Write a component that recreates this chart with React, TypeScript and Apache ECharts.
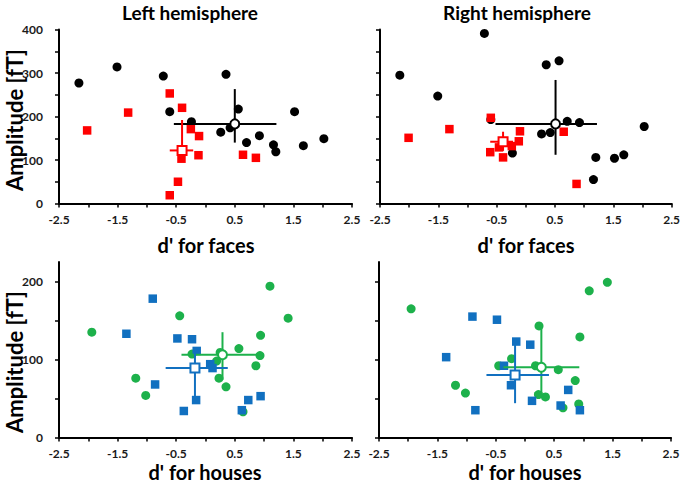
import React, { useEffect, useRef } from 'react';
import * as echarts from 'echarts';

// ---- tick values ----
const xTicks = [-2.5, -2, -1.5, -1, -0.5, 0, 0.5, 1, 1.5, 2, 2.5];
const xTickLabels = [-2.5, -1.5, -0.5, 0.5, 1.5, 2.5];
const facesYTicks = [0, 50, 100, 150, 200, 250, 300, 350, 400];
const facesYLabels = [0, 100, 200, 300, 400];
const housesYTicks = [0, 50, 100, 150, 200];
const housesYLabels = [0, 100, 200];

// ---- Left hemisphere, faces ----
const lhFacesBlackX = [-2.16, -1.51, -0.72, -0.61, -0.24, 0.26, 0.35, 0.42, 0.56, 0.70, 0.92, 1.16, 1.20, 1.52, 1.67, 2.02];
const lhFacesBlackY = [277, 314, 293, 211, 188, 164, 297, 174, 217, 140, 156, 135, 119, 211, 133, 149];
const lhFacesRedX = [-2.02, -1.32, -0.61, -0.40, -0.25, -0.11, -0.12, -0.41, -0.47, -0.61, 0.64, 0.86];
const lhFacesRedY = [168, 209, 253, 220, 171, 155, 111, 103, 50, 19, 112, 105];
const lhFacesBlackMean = [0.50, 183];
const lhFacesBlackErrX = [-0.54, 1.21];
const lhFacesBlackErrY = [140, 263];
const lhFacesRedMean = [-0.40, 122];
const lhFacesRedErrX = [-0.61, -0.21];
const lhFacesRedErrY = [100, 192];

// ---- Right hemisphere, faces ----
const rhFacesBlackX = [-2.16, -1.51, -0.71, -0.60, -0.23, 0.27, 0.35, 0.42, 0.57, 0.71, 0.92, 1.16, 1.20, 1.52, 1.68, 2.03];
const rhFacesBlackY = [295, 247, 391, 193, 116, 160, 319, 163, 328, 189, 186, 55, 106, 104, 112, 177];
const rhFacesRedX = [-2.01, -1.31, -0.60, -0.61, -0.46, -0.39, -0.24, -0.12, -0.10, 0.65, 0.87];
const rhFacesRedY = [151, 171, 197, 118, 129, 106, 132, 143, 166, 165, 45];
const rhFacesBlackMean = [0.51, 183];
const rhFacesBlackErrX = [-0.52, 1.22];
const rhFacesBlackErrY = [112, 284];
const rhFacesRedMean = [-0.39, 142];
const rhFacesRedErrX = [-0.61, -0.22];
const rhFacesRedErrY = [121, 165];

// ---- Left hemisphere, houses ----
const lhHousesGreenX = [-1.94, -1.19, -1.02, -0.44, -0.23, 0.19, 0.23, 0.25, 0.35, 0.57, 0.64, 0.94, 0.93, 0.86, 1.10, 1.41];
const lhHousesGreenY = [135, 76, 54, 156, 107, 98, 76, 109, 65, 114, 33, 131, 105, 92, 194, 153];
const lhHousesBlueX = [-1.35, -0.90, -0.86, -0.48, -0.37, -0.23, -0.15, -0.16, 0.08, 0.12, 0.62, 0.73, 0.94];
const lhHousesBlueY = [133, 178, 68, 127, 34, 126, 111, 48, 94, 89, 35, 48, 53];
const lhHousesGreenMean = [0.29, 106];
const lhHousesGreenErrX = [-0.41, 0.93];
const lhHousesGreenErrY = [74, 135];
const lhHousesBlueMean = [-0.18, 89];
const lhHousesBlueErrX = [-0.68, 0.38];
const lhHousesBlueErrY = [48, 108];

// ---- Right hemisphere, houses ----
const rhHousesGreenX = [-1.95, -1.19, -1.02, -0.45, -0.23, 0.18, 0.24, 0.23, 0.35, 0.57, 0.65, 0.94, 0.86, 0.92, 1.10, 1.41];
const rhHousesGreenY = [165, 67, 57, 92, 101, 92, 143, 55, 52, 87, 38, 129, 73, 43, 188, 199];
const rhHousesBlueX = [-1.35, -0.90, -0.85, -0.48, -0.36, -0.15, -0.24, 0.09, 0.12, 0.61, 0.74, 0.94];
const rhHousesBlueY = [103, 155, 35, 151, 92, 123, 67, 119, 47, 41, 61, 35];
const rhHousesGreenMean = [0.28, 90];
const rhHousesGreenErrX = [-0.37, 0.93];
const rhHousesGreenErrY = [55, 144];
const rhHousesBlueMean = [-0.17, 80];
const rhHousesBlueErrX = [-0.66, 0.41];
const rhHousesBlueErrY = [44, 127];

const BLACK = '#000000';
const RED = '#ff0000';
const GREEN = '#1db14b';
const BLUE = '#1170c0';
const FONT = 'Lato, "Open Sans", sans-serif';

const zip = (xs: number[], ys: number[]) => xs.map((x, i) => [x, ys[i]]);

function errRender(color: string) {
  return (params: any, api: any) => {
    const mx = api.value(0);
    const my = api.value(1);
    const a = api.coord([api.value(2), my]);
    const b = api.coord([api.value(3), my]);
    const c = api.coord([mx, api.value(4)]);
    const d = api.coord([mx, api.value(5)]);
    return {
      type: 'group',
      children: [
        { type: 'line', shape: { x1: a[0], y1: a[1], x2: b[0], y2: b[1] }, style: { stroke: color, lineWidth: 2 } },
        { type: 'line', shape: { x1: c[0], y1: c[1], x2: d[0], y2: d[1] }, style: { stroke: color, lineWidth: 2 } },
      ],
    };
  };
}

function panelSeries(
  idx: number,
  circX: number[], circY: number[], circColor: string,
  sqX: number[], sqY: number[], sqColor: string,
  circMean: number[], circErrX: number[], circErrY: number[],
  sqMean: number[], sqErrX: number[], sqErrY: number[]
) {
  const ax = { xAxisIndex: idx, yAxisIndex: idx, emphasis: { disabled: true }, silent: true };
  return [
    { type: 'scatter', ...ax, symbol: 'circle', symbolSize: 9, itemStyle: { color: circColor, opacity: 1 }, data: zip(circX, circY), z: 2 },
    { type: 'scatter', ...ax, symbol: 'rect', symbolSize: 8.5, itemStyle: { color: sqColor, opacity: 1 }, data: zip(sqX, sqY), z: 3 },
    { type: 'custom', ...ax, renderItem: errRender(circColor), data: [[circMean[0], circMean[1], circErrX[0], circErrX[1], circErrY[0], circErrY[1]]], z: 4 },
    { type: 'custom', ...ax, renderItem: errRender(sqColor), data: [[sqMean[0], sqMean[1], sqErrX[0], sqErrX[1], sqErrY[0], sqErrY[1]]], z: 4 },
    { type: 'scatter', ...ax, symbol: 'circle', symbolSize: 9, itemStyle: { color: '#ffffff', borderColor: circColor, borderWidth: 2, opacity: 1 }, data: [circMean], z: 5 },
    { type: 'scatter', ...ax, symbol: 'rect', symbolSize: 9, itemStyle: { color: '#ffffff', borderColor: sqColor, borderWidth: 2, opacity: 1 }, data: [sqMean], z: 5 },
  ];
}

function xAxisFor(idx: number) {
  return {
    type: 'value', gridIndex: idx, min: -2.5, max: 2.5,
    axisLine: { show: true, onZero: false, lineStyle: { color: '#000', width: 2 } },
    axisTick: { show: true, inside: false, length: 4, customValues: xTicks, lineStyle: { color: '#000', width: 1.5 } },
    axisLabel: { show: true, customValues: xTickLabels, margin: 10, fontSize: 12, fontWeight: 'bold', color: '#1a1a1a', fontFamily: FONT, formatter: (v: number) => String(v) },
    splitLine: { show: false },
  };
}

function yAxisFor(idx: number, max: number, ticks: number[], labels: number[], showLabels: boolean) {
  return {
    type: 'value', gridIndex: idx, min: 0, max,
    axisLine: { show: true, onZero: false, lineStyle: { color: '#000', width: 2 } },
    axisTick: { show: true, inside: false, length: 4, customValues: ticks, lineStyle: { color: '#000', width: 1.5 } },
    axisLabel: { show: showLabels, customValues: labels, margin: 16, fontSize: 12, fontWeight: 'bold', color: '#1a1a1a', fontFamily: FONT },
    splitLine: { show: false },
  };
}

function text(x: number, y: number, t: string, size: number, rotation = 0) {
  return {
    type: 'text', x, y, rotation,
    style: { text: t, font: `bold ${size}px ${FONT}`, fill: '#000', textAlign: 'center', textVerticalAlign: 'middle', align: 'center', verticalAlign: 'middle' },
  };
}

export default function App() {
  const ref = useRef<HTMLDivElement>(null);
  useEffect(() => {
    if (!ref.current) return;
    const chart = echarts.init(ref.current, null, { renderer: 'svg' });
    chart.setOption({
      animation: false,
      backgroundColor: '#ffffff',
      grid: [
        { left: 59, top: 29.5, width: 293, height: 174 },
        { left: 380, top: 29.5, width: 292, height: 174 },
        { left: 59, top: 262, width: 293, height: 175.5 },
        { left: 379, top: 262, width: 292, height: 175.5 },
      ],
      xAxis: [xAxisFor(0), xAxisFor(1), xAxisFor(2), xAxisFor(3)],
      yAxis: [
        yAxisFor(0, 400, facesYTicks, facesYLabels, true),
        yAxisFor(1, 400, facesYTicks, facesYLabels, false),
        yAxisFor(2, 225, housesYTicks, housesYLabels, true),
        yAxisFor(3, 225, housesYTicks, housesYLabels, false),
      ],
      series: [
        ...panelSeries(0, lhFacesBlackX, lhFacesBlackY, BLACK, lhFacesRedX, lhFacesRedY, RED,
          lhFacesBlackMean, lhFacesBlackErrX, lhFacesBlackErrY, lhFacesRedMean, lhFacesRedErrX, lhFacesRedErrY),
        ...panelSeries(1, rhFacesBlackX, rhFacesBlackY, BLACK, rhFacesRedX, rhFacesRedY, RED,
          rhFacesBlackMean, rhFacesBlackErrX, rhFacesBlackErrY, rhFacesRedMean, rhFacesRedErrX, rhFacesRedErrY),
        ...panelSeries(2, lhHousesGreenX, lhHousesGreenY, GREEN, lhHousesBlueX, lhHousesBlueY, BLUE,
          lhHousesGreenMean, lhHousesGreenErrX, lhHousesGreenErrY, lhHousesBlueMean, lhHousesBlueErrX, lhHousesBlueErrY),
        ...panelSeries(3, rhHousesGreenX, rhHousesGreenY, GREEN, rhHousesBlueX, rhHousesBlueY, BLUE,
          rhHousesGreenMean, rhHousesGreenErrX, rhHousesGreenErrY, rhHousesBlueMean, rhHousesBlueErrX, rhHousesBlueErrY),
      ],
      graphic: [
        text(190, 12, 'Left hemisphere', 19),
        text(517, 12, 'Right hemisphere', 19),
        text(206, 245, "d' for faces", 20),
        text(526, 245, "d' for faces", 20),
        text(205, 472, "d' for houses", 20),
        text(525, 472, "d' for houses", 20),
        text(14, 120, 'Amplitude [fT]', 22, Math.PI / 2),
        text(14, 362, 'Amplitude [fT]', 22, Math.PI / 2),
      ],
    });
    return () => chart.dispose();
  }, []);
  return <div ref={ref} style={{ position: 'absolute', left: 0, top: 0, width: 683, height: 487 }} />;
}
